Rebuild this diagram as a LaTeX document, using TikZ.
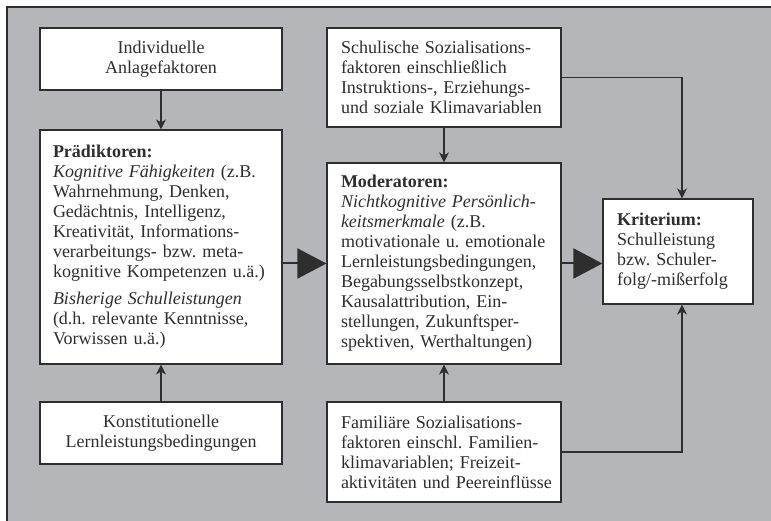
\documentclass[tikz,border=0pt]{standalone}
\usepackage{fontspec}
\setmainfont{Liberation Serif}
\usepackage{tikz}
\usetikzlibrary{positioning, arrows.meta, calc}
\definecolor{panel}{HTML}{B5B6BA}
\definecolor{ink}{HTML}{2E2E2E}
\frenchspacing
\hyphenpenalty=10000
\exhyphenpenalty=10000

\begin{document}
\begin{tikzpicture}[x=1pt, y=1pt,
    box/.style={draw=ink, line width=1.2pt, fill=white, text=ink, inner xsep=13pt, inner ysep=0pt,
      align=left, font=\fontsize{18}{20}\selectfont},
    link/.style={draw=ink, line width=1.2pt, -{Stealth[length=10pt, width=10pt, inset=3pt]}},
    flow/.style={draw=ink, line width=2pt, -{Triangle[length=29pt, width=30pt]}}]
        \useasboundingbox (0,0) rectangle (771,521);
        \fill[panel] (7,0) rectangle (771,514);
        \draw[ink, line width=1.2pt] (7,0) -- (7,514) -- (771,514);
        \node[box, align=center, text width=216pt, minimum height=62pt] (anlage) at (161,462)
          {Individuelle\\Anlagefaktoren};
        \node[box, text width=216pt, minimum height=234pt] (praed) at (161,274)
          {\textbf{Prädiktoren:}\\
           \textit{Kognitive Fähigkeiten} (z.B.\\
           Wahrnehmung, Denken,\\
           Gedächtnis, Intelligenz,\\
           Kreativität, Informations-\\
           verarbeitungs- bzw. meta-\\
           kognitive Kompetenzen u.ä.)\\[7pt]
           \textit{Bisherige Schulleistungen}\\
           (d.h. relevante Kenntnisse,\\
           Vorwissen u.ä.)};
        \node[box, align=center, text width=216pt, minimum height=62pt] (konst) at (161,88)
          {Konstitutionelle\\Lernleistungsbedingungen};
        \node[box, inner xsep=14pt, text width=206pt, minimum height=99pt] (schul) at (444,443.5)
          {Schulische Sozialisations-\\
           faktoren einschließlich\\
           Instruktions-, Erziehungs-\\
           und soziale Klimavariablen};
        \node[box, inner xsep=14pt, text width=206pt, minimum height=201pt] (moder) at (444,257.5)
          {\textbf{Moderatoren:}\\
           \textit{Nichtkognitive Persönlich-}\\
           \textit{keitsmerkmale} (z.B.\\
           motivationale u. emotionale\\
           Lernleistungsbedingungen,\\
           Begabungsselbstkonzept,\\
           Kausalattribution, Ein-\\
           stellungen, Zukunftsper-\\
           spektiven, Werthaltungen)};
        \node[box, inner xsep=14pt, text width=206pt, minimum height=100pt] (famil) at (444,69)
          {Familiäre Sozialisations-\\
           faktoren einschl. Familien-\\
           klimavariablen; Freizeit-\\
           aktivitäten~und~Peereinflüsse};
        \node[box, inner xsep=14pt, text width=122pt, minimum height=105pt] (krit) at (678,269.5)
          {\textbf{Kriterium:}\\
           Schulleistung\\
           bzw. Schuler-\\
           folg/-mißerfolg};
        \draw[link] (anlage) -- (praed);
        \draw[link] (konst) -- (praed);
        \draw[link] (schul) -- (moder);
        \draw[link] (famil) -- (moder);
        \draw[link] (schul.east) -| ([xshift=4pt]krit.north);
        \draw[link] (famil.east) -| ([xshift=4pt]krit.south);
        \draw[flow] (praed.east |- moder.west) -- (moder.west);
        \draw[flow] (moder.east) -- (moder.east -| krit.west);
      \end{tikzpicture}
\end{document}
